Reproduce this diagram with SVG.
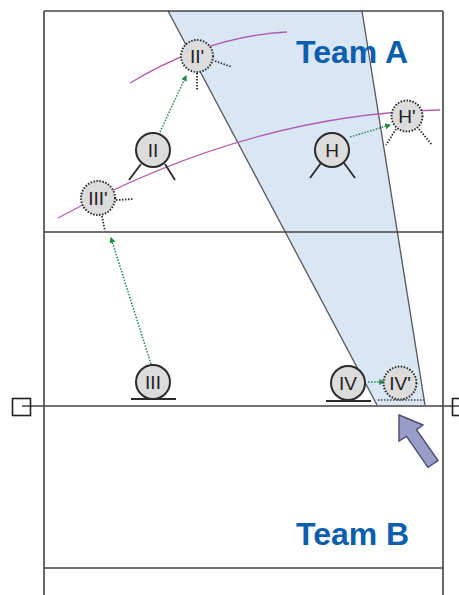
<svg xmlns="http://www.w3.org/2000/svg" width="459" height="595" viewBox="0 0 459 595">
<defs>
<style>
.court{stroke:#454343;stroke-width:1.6;fill:none}
.arc{stroke:#b05cb0;stroke-width:1.3;fill:none}
.pl{fill:#dcdcdc;stroke:#2b2b2b;stroke-width:2}
.pd{fill:#dcdcdc;stroke:#2b2b2b;stroke-width:2;stroke-dasharray:1.5 1.5}
.leg{stroke:#2b2b2b;stroke-width:1.8;fill:none}
.legd{stroke:#2b2b2b;stroke-width:1.8;fill:none;stroke-dasharray:1.5 1.5}
.mv{stroke:#1f8a4a;stroke-width:1.5;fill:none;stroke-dasharray:1.5 1.5}
.lbl{font-family:"Liberation Sans",Arial,sans-serif;font-size:19px;fill:#222;text-anchor:middle}
.team{font-family:"Liberation Sans",Arial,sans-serif;font-weight:bold;font-size:32px;fill:#0b5fac}
</style>
<marker id="ah" viewBox="0 0 10 10" refX="8" refY="5" markerWidth="6" markerHeight="6" orient="auto" markerUnits="userSpaceOnUse">
<path d="M0,0 L10,5 L0,10 z" fill="#1f8a4a"/>
</marker>
</defs>
<rect width="459" height="595" fill="#fff"/>
<g id="zone">
<polygon points="168,11 362,11 425,405 377,405" fill="#d9e6f4"/>
<line x1="168" y1="11" x2="377" y2="405" stroke="#555" stroke-width="1.3"/>
<line x1="362" y1="11" x2="425" y2="405" stroke="#555" stroke-width="1.3"/>
<line x1="378" y1="400" x2="425" y2="400" stroke="#444" stroke-width="1.3" stroke-dasharray="1.5 1.5"/>
</g>
<g id="court">
<line class="court" x1="44" y1="11" x2="443" y2="11"/>
<line class="court" x1="44" y1="11" x2="44" y2="595"/>
<line class="court" x1="443" y1="11" x2="443" y2="595"/>
<line class="court" x1="44" y1="232" x2="443" y2="232"/>
<line class="court" x1="22" y1="406" x2="459" y2="406"/>
<line class="court" x1="44" y1="568" x2="443" y2="568"/>
<rect x="12.5" y="398.5" width="18" height="17" fill="none" stroke="#222" stroke-width="1.6"/>
<rect x="452.5" y="398.5" width="18" height="17" fill="none" stroke="#222" stroke-width="1.6"/>
</g>
<g id="arcs">
<path class="arc" d="M130,83 Q208,36 287,32"/>
<path class="arc" d="M58,218 Q249,114 440,110"/>
</g>
<g id="connectors">
<line class="mv" x1="160" y1="132" x2="186" y2="76" marker-end="url(#ah)"/>
<line class="mv" x1="151" y1="364" x2="111" y2="238" marker-end="url(#ah)"/>
<line class="mv" x1="350" y1="137" x2="390" y2="125" marker-end="url(#ah)"/>
<line class="mv" x1="368" y1="382" x2="384" y2="382" marker-end="url(#ah)"/>
</g>
<g id="p-II2">
<line class="legd" x1="215" y1="61" x2="232" y2="67"/>
<line class="legd" x1="197" y1="73" x2="197" y2="90"/>
<circle class="pd" cx="197" cy="56" r="16"/>
<text class="lbl" x="197" y="62.5">II'</text>
</g>
<g id="p-II">
<line class="leg" x1="141" y1="164" x2="129" y2="180"/>
<line class="leg" x1="165" y1="164" x2="175" y2="180"/>
<circle class="pl" cx="153" cy="150" r="17"/>
<text class="lbl" x="153" y="156.5">II</text>
</g>
<g id="p-III2">
<line class="legd" x1="116" y1="200" x2="134" y2="199"/>
<line class="legd" x1="102" y1="216" x2="105" y2="231"/>
<circle class="pd" cx="98" cy="198" r="17"/>
<text class="lbl" x="98" y="204.5">III'</text>
</g>
<g id="p-H">
<line class="leg" x1="321" y1="163" x2="310" y2="178"/>
<line class="leg" x1="344" y1="163" x2="355" y2="178"/>
<circle class="pl" cx="332" cy="150" r="17"/>
<text class="lbl" x="332" y="156.5">H</text>
</g>
<g id="p-H2">
<line class="legd" x1="396" y1="129" x2="386" y2="145"/>
<line class="legd" x1="419" y1="129" x2="432" y2="145"/>
<circle class="pd" cx="407" cy="116" r="15.5"/>
<text class="lbl" x="407" y="122.5">H'</text>
</g>
<g id="p-III">
<line class="leg" x1="131" y1="399" x2="176" y2="399"/>
<circle class="pl" cx="153" cy="382" r="17"/>
<text class="lbl" x="153" y="388.5">III</text>
</g>
<g id="p-IV">
<line class="leg" x1="326" y1="401" x2="371" y2="401"/>
<circle class="pl" cx="348" cy="383" r="17"/>
<text class="lbl" x="348" y="389.5">IV</text>
</g>
<g id="p-IV2">
<circle class="pd" cx="400" cy="383" r="16.5"/>
<text class="lbl" x="400" y="389.5">IV'</text>
</g>
<g id="big-arrow">
<polygon points="399,415 423,425 416.5,429.6 438,460.6 428,467.4 406.5,436.4 399,441" fill="#9a9cc8" stroke="#4a4c6e" stroke-width="1.4" stroke-linejoin="miter"/>
</g>
<g id="labels">
<text class="team" x="296" y="63">Team A</text>
<text class="team" x="296" y="545">Team B</text>
</g>
</svg>
